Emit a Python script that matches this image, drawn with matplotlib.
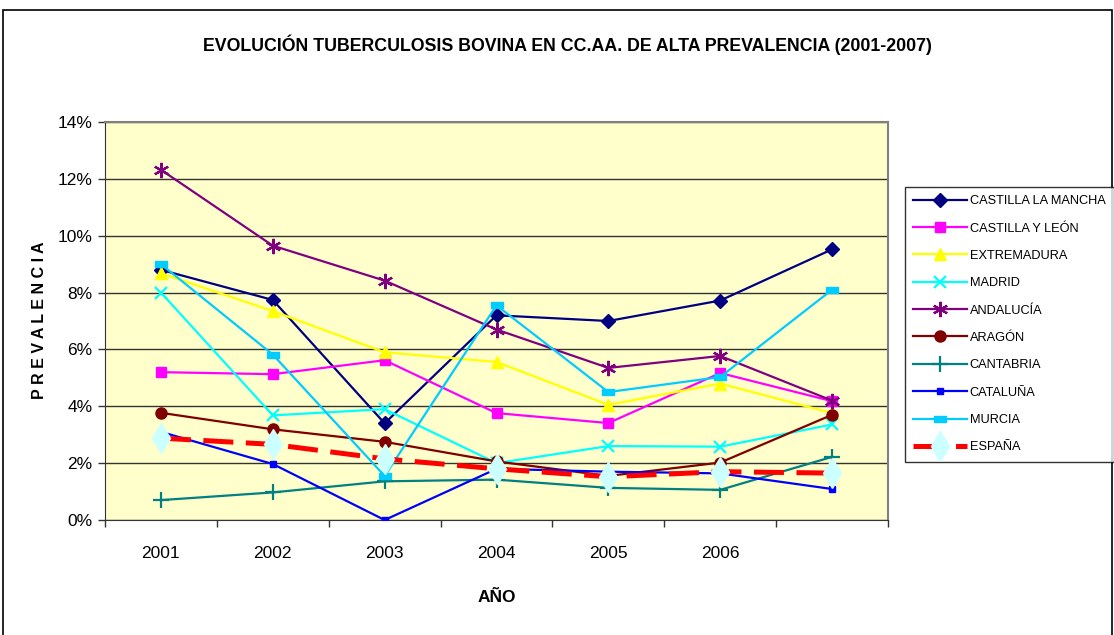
import matplotlib
matplotlib.use('Agg')
import matplotlib.pyplot as plt
from matplotlib.patches import Rectangle
import numpy as np

# ---------------- datos ----------------
years = ['2001', '2002', '2003', '2004', '2005', '2006', '']

castilla_la_mancha = [8.80, 7.74, 3.40, 7.20, 7.00, 7.72, 9.52]
castilla_y_leon    = [5.20, 5.13, 5.62, 3.76, 3.41, 5.17, 4.18]
extremadura        = [8.68, 7.35, 5.90, 5.56, 4.05, 4.80, 3.76]
madrid             = [8.00, 3.68, 3.90, 2.00, 2.60, 2.58, 3.36]
andalucia          = [12.32, 9.65, 8.42, 6.70, 5.35, 5.77, 4.20]
aragon             = [3.77, 3.19, 2.75, 2.06, 1.55, 2.02, 3.70]
cantabria          = [0.70, 0.97, 1.36, 1.42, 1.13, 1.06, 2.22]
cataluna           = [3.10, 1.97, 0.00, 1.80, 1.70, 1.64, 1.09]
murcia             = [9.00, 5.82, 1.55, 7.55, 4.50, 5.03, 8.10]
espana             = [2.88, 2.66, 2.15, 1.80, 1.52, 1.70, 1.65]

plt.rcParams['font.family'] = ['Liberation Sans', 'DejaVu Sans']

W, H = 1114, 635
fig = plt.figure(figsize=(W / 100, H / 100), dpi=100)
fig.patch.set_facecolor('white')

# borde exterior del gráfico
fig.patches.append(Rectangle((3 / W, -0.01), (W - 5) / W, 1 - 10 / H + 0.01,
                             transform=fig.transFigure, fill=False,
                             edgecolor='black', linewidth=1.2))

ax = fig.add_axes([105 / W, (H - 520) / H, (888 - 105) / W, (520 - 122) / H])
ax.set_facecolor('#FFFFCC')

x = np.arange(len(years))
rect_marker = [(-1, -0.5), (1, -0.5), (1, 0.5), (-1, 0.5), (-1, -0.5)]

series = [
    ('CASTILLA LA MANCHA', castilla_la_mancha, '#000080', dict(marker='D', ms=7)),
    ('CASTILLA Y LEÓN',    castilla_y_leon,    '#FF00FF', dict(marker='s', ms=7)),
    ('EXTREMADURA',        extremadura,        '#FFFF00', dict(marker='^', ms=8)),
    ('MADRID',             madrid,             '#00FFFF', dict(marker='x', ms=9, mew=1.6)),
    ('ANDALUCÍA',          andalucia,          '#800080', dict(marker=(6, 2, 0), ms=11, mew=1.6)),
    ('ARAGÓN',             aragon,             '#800000', dict(marker='o', ms=8)),
    ('CANTABRIA',          cantabria,          '#008080', dict(marker='+', ms=11, mew=1.6)),
    ('CATALUÑA',           cataluna,           '#0000FF', dict(marker='s', ms=4)),
    ('MURCIA',             murcia,             '#00CCFF', dict(marker=rect_marker, ms=8)),
]

handles = []
for name, vals, col, mk in series:
    ln, = ax.plot(x, vals, color=col, linewidth=1.6, label=name,
                  markerfacecolor=col, markeredgecolor=col, zorder=3, **mk)
    handles.append(ln)

ln, = ax.plot(x, espana, color='#FF0000', linewidth=3.6, linestyle=(0, (6, 2.5)),
              marker='d', ms=15, markerfacecolor='#CCFFFF', markeredgecolor='#CCFFFF',
              label='ESPAÑA', zorder=4)
handles.append(ln)

# ejes
ax.set_xlim(-0.5, len(years) - 0.5)
ax.set_ylim(0, 14)
ax.set_yticks(np.arange(0, 15, 2))
ax.set_yticklabels([f'{v}%' for v in range(0, 15, 2)], fontsize=12.5)
ax.yaxis.grid(True, color='#333333', linewidth=1.0)
ax.set_axisbelow(True)

ax.set_xticks(np.arange(-0.5, len(years), 1.0))
ax.set_xticklabels([])
ax.set_xticks(x, minor=True)
ax.set_xticklabels(years, minor=True, fontsize=12.5)
ax.tick_params(axis='x', which='major', direction='out', length=5, width=1, color='#333333')
ax.tick_params(axis='x', which='minor', length=0, pad=19)
ax.tick_params(axis='y', direction='out', length=5, width=1, color='#333333', pad=4)

for side in ['top', 'right']:
    ax.spines[side].set_color('#808080')
    ax.spines[side].set_linewidth(1.5)
ax.spines['left'].set_color('#333333')
ax.spines['bottom'].set_color('#333333')

# títulos
fig.text(567 / W, 1 - 45 / H, 'EVOLUCIÓN TUBERCULOSIS BOVINA EN CC.AA. DE ALTA PREVALENCIA (2001-2007)',
         ha='center', va='center', fontsize=12.8, fontweight='bold')
fig.text(497 / W, 1 - 597 / H, 'AÑO', ha='center', va='center', fontsize=12.5, fontweight='bold')
fig.text(40 / W, 1 - 320 / H, 'P R E V A L E N C I A', ha='center', va='center', rotation=90,
         fontsize=11.5, fontweight='bold')

# leyenda
leg = fig.legend(handles=handles, loc='upper left', bbox_to_anchor=(905 / W, 1 - 187 / H),
                 fontsize=9.2, frameon=True, fancybox=False, shadow=False,
                 borderaxespad=0, borderpad=0.65, labelspacing=1.2,
                 handlelength=4.2, handletextpad=0.2)
leg.get_frame().set_edgecolor('black')
leg.get_frame().set_linewidth(1.0)

fig.savefig('out.png', dpi=100)
